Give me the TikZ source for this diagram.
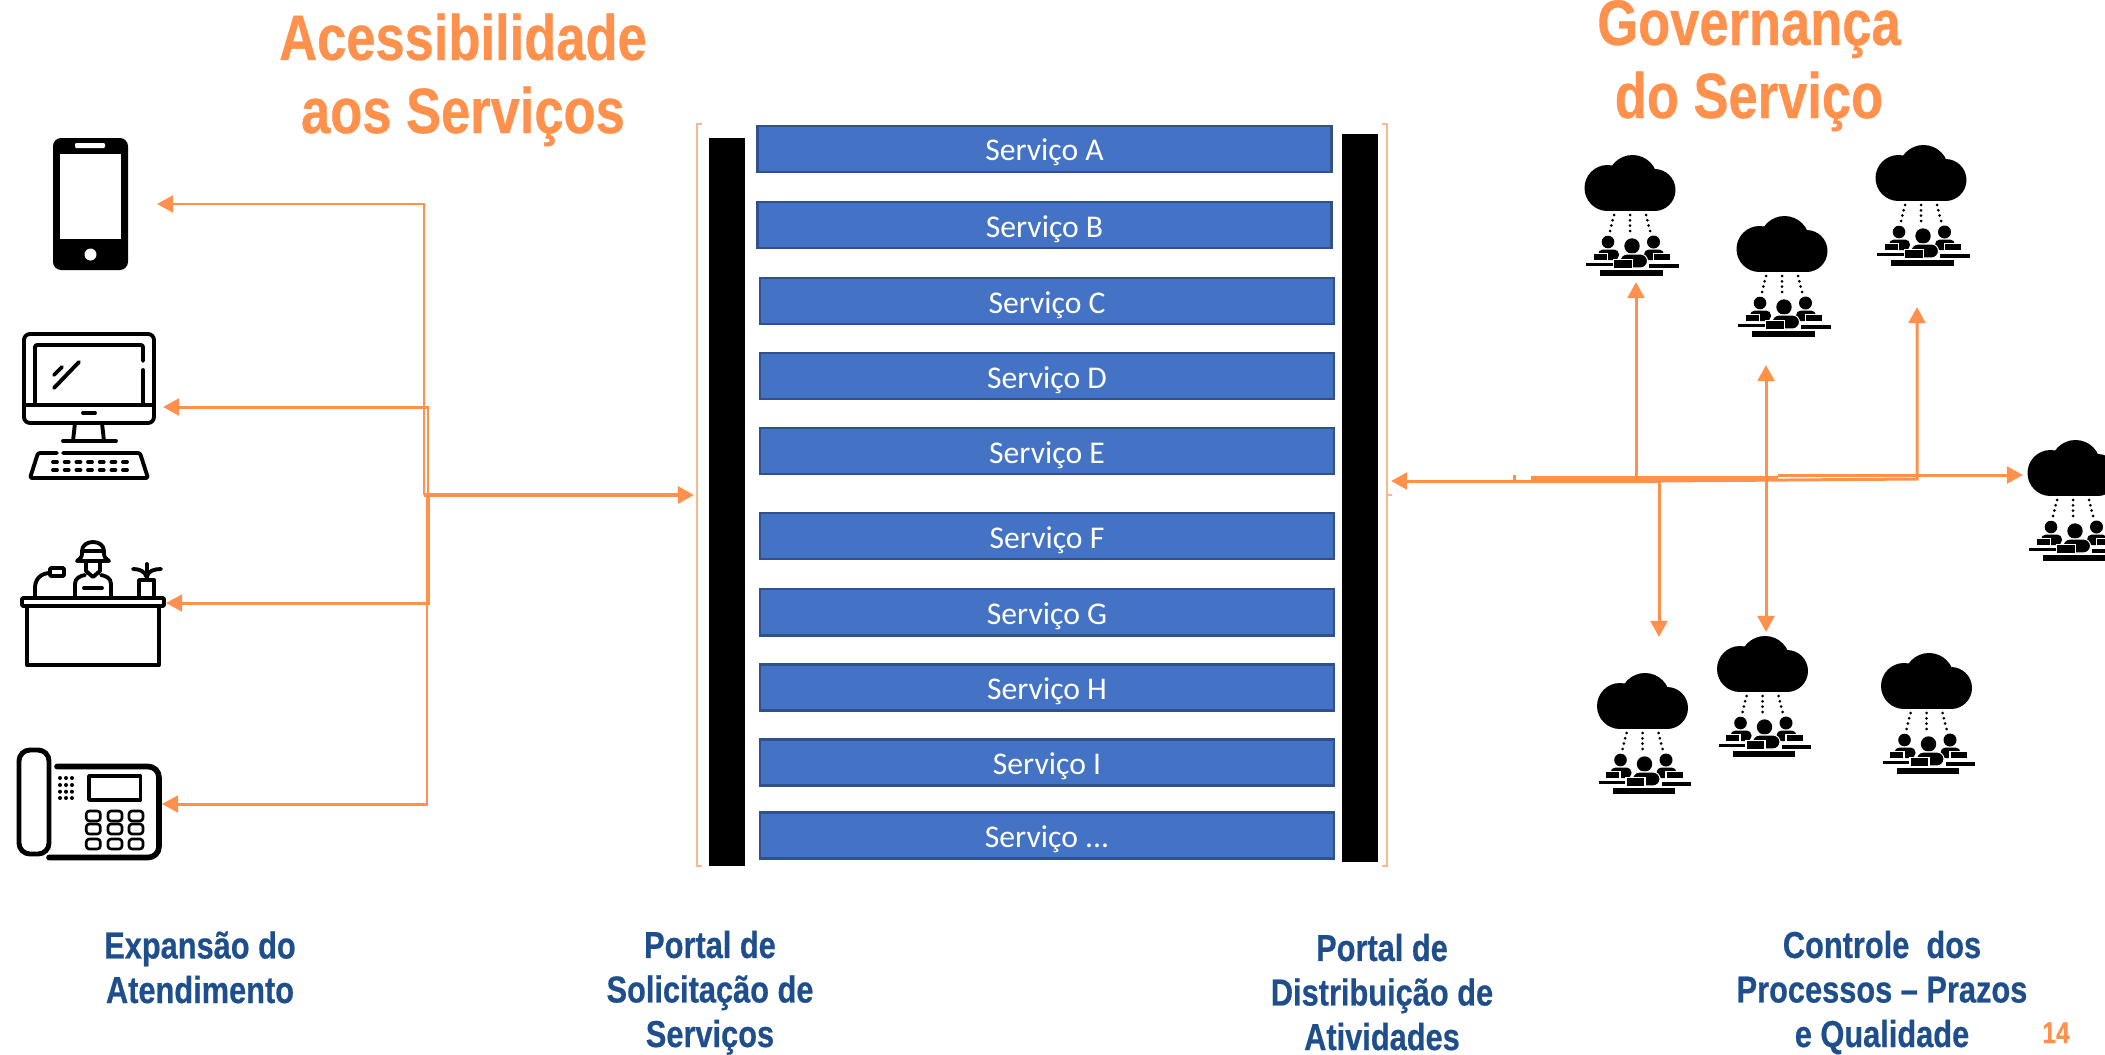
\documentclass[tikz,border=0pt]{standalone}
\usepackage{fontspec}
\setmainfont{Carlito}
\newfontfamily\headfont[FakeStretch=0.82,FakeBold=0.5]{Liberation Sans}
\usetikzlibrary{arrows.meta}
\usetikzlibrary{positioning}
\definecolor{flowcol}{HTML}{FF914D}
\definecolor{bracketcol}{HTML}{F9B78E}
\definecolor{servfill}{HTML}{4472C4}
\definecolor{servline}{HTML}{2F528F}
\definecolor{labelcol}{HTML}{1F4E8C}
\tikzset{
  flow/.style={draw=flowcol, line width=0.85pt},
  bracket/.style={draw=bracketcol, line width=0.35pt},
  servbox/.style={rectangle, draw=servline, fill=servfill, line width=0.7pt, text=white, font=\fontsize{9}{11}\selectfont, minimum width=5.74cm, minimum height=0.46cm, inner sep=0pt, outer sep=0pt, text height=7.2pt, text depth=0.4pt},
  portalbar/.style={rectangle, fill=black, minimum width=0.36cm, minimum height=7.28cm, inner sep=0pt, outer sep=0pt},
  heading/.style={text=flowcol, align=center, anchor=base, inner sep=0pt, font=\headfont\bfseries\fontsize{18.2}{20.8}\selectfont},
  caption/.style={text=labelcol, align=center, anchor=base, inner sep=0pt, font=\headfont\bfseries\fontsize{10.67}{12.66}\selectfont},
  iconline/.style={draw=black, line width=1.1pt, line cap=round, line join=round},
  phone/.pic={
    \fill[rounded corners=2.3pt] (0,0) rectangle (75,132);
    \fill[white] (7,16) rectangle (68,101);
    \fill[white, rounded corners=0.3pt] (22,5) rectangle (52,10);
    \fill[white] (37.5,116.5) circle[radius=6];
  },
  desktop/.pic={
    \draw[iconline, rounded corners=1.7pt] (1,1) rectangle (131,90);
    \draw[iconline] (1,72) -- (131,72);
    \draw[iconline, rounded corners=0.6pt] (12,72) -- (12,12) -- (120,12) -- (120,28);
    \draw[iconline] (120,37) -- (120,72);
    \draw[iconline] (60,80) -- (72,80);
    \draw[iconline] (31,55) -- (56,29);
    \draw[iconline] (31,42) -- (39,34);
    \draw[iconline] (52,90) -- (50,108);
    \draw[iconline] (79,90) -- (81,108);
    \draw[iconline] (40,108) -- (93,108);
    \draw[iconline, rounded corners=0.6pt] (34,120) -- (15,120) -- (7,145) -- (125,145) -- (117,120) -- (40,120);
    \foreach \kx in {32,43.7,55.4,67,78.7,90.4,102} {
      \draw[iconline] (\kx-2,129) -- (\kx+2,129);
      \draw[iconline] (\kx-2,137) -- (\kx+2,137);
    }
  },
  reception/.pic={
    \draw[iconline, rounded corners=0.3pt] (2,58) rectangle (144,66);
    \draw[iconline] (7,66) -- (7,125) -- (139,125) -- (139,66);
    \draw[iconline] (15,56) -- (15,48) .. controls (15,38) and (22,33) .. (30,33);
    \draw[iconline, rounded corners=0.3pt] (30,28) rectangle (44,36);
    \draw[iconline] (62,11) .. controls (62,-1) and (84,-1) .. (84,11) -- cycle;
    \draw[iconline] (62,11) .. controls (62,17) .. (57,21) -- (89,21) .. controls (84,17) .. (84,11);
    \draw[iconline] (66,22) -- (66,31) -- (73,37) -- (80,31) -- (80,22);
    \draw[iconline] (55,56) -- (55,44) .. controls (55,38) and (60,36) .. (65,35);
    \draw[iconline] (91,56) -- (91,44) .. controls (91,38) and (86,36) .. (81,35);
    \draw[iconline] (64,48) -- (82,48);
    \draw[iconline] (119,56) -- (119,40) -- (134,40) -- (134,56);
    \draw[iconline] (126.7,24) -- (126.7,40);
    \draw[iconline] (126.7,37) .. controls (125,31) and (119,29) .. (113,29);
    \draw[iconline] (126.7,37) .. controls (128,31) and (134,29) .. (141,29);
  },
  deskset/.pic={
    \draw[iconline, line width=1.4pt, rounded corners=3.1pt] (3,3) rectangle (33,107);
    \draw[iconline, line width=1.6pt, rounded corners=3.1pt] (41,19.5) -- (143,19.5) -- (143,110.5) -- (33,110.5);
    \draw[iconline, line width=1pt] (73,29) rectangle (124.5,53);
    \foreach \dx in {44,50,56} \foreach \dy in {31,38,44.7,51}
      \fill (\dx,\dy) circle[radius=2];
    \foreach \dx in {77.3,99,120} \foreach \dy in {69,82,97}
      \draw[iconline, line width=0.75pt, rounded corners=0.85pt] (\dx-7,\dy-5) rectangle (\dx+7,\dy+5);
  },
  crowd/.pic={
    % cloud
    \fill (-22.5,-23) circle[radius=23];
    \fill (2.5,-31) circle[radius=25];
    \fill (24.5,-21) circle[radius=21];
    \fill (-22.5,-20) rectangle (24.5,0);
    % dotted links
    \foreach \dt in {0,0.33,0.66,1} {
      \fill (-16-4*\dt,4+16*\dt) circle[radius=1.5];
      \fill (0,4+16*\dt) circle[radius=1.5];
      \fill (16+4*\dt,4+16*\dt) circle[radius=1.5];
    }
    % people
    \fill (-22,31) circle[radius=6.3];
    \fill (23.5,31) circle[radius=6.5];
    \fill (2,35) circle[radius=7.7];
    \fill[rounded corners=1.4pt] (-32,49) -- (-32,38.5) -- (-11,38.5) -- (-11,49) -- cycle;
    \fill[rounded corners=1.4pt] (14,49) -- (14,38.5) -- (34,38.5) -- (34,49) -- cycle;
    \filldraw[draw=white, line width=0.3pt, rounded corners=2pt] (-10,57) -- (-10,43) -- (17.5,43) -- (17.5,57) -- cycle;
    \filldraw[draw=white, line width=0.3pt] (-37,42.7) rectangle (-22.5,50);
    \filldraw[draw=white, line width=0.3pt] (23.5,42.7) rectangle (41,50);
    \filldraw[draw=white, line width=0.3pt] (-16.5,48.3) rectangle (2.5,57.7);
    \fill (-44,51.7) rectangle (-17.5,55);
    \fill (19,53.3) rectangle (48.5,57.3);
    \fill (-30,59.3) rectangle (32.5,65.3);
  }
}
\begin{document}
\begin{tikzpicture}[x=0.01cm, y=-0.01cm, >={Triangle[length=4.6pt,width=4.8pt]}]
  \path[use as bounding box, clip] (0,0) rectangle (2105,1054);

  \node[heading] (acesso) at (463,133) {Acessibilidade\\aos Serviços};
  \node[heading] (governo) at (1749,118) {Governança\\do Serviço};

  % services
  \node[portalbar] (barin) at (727,502) {};
  \node[portalbar] (barout) at (1360,498) {};
  \node[servbox] (sa) at (1044.5,149) {Serviço A};
  \node[servbox, below=0.30cm of sa] (sb) {Serviço B};
  \node[servbox, below=0.30cm of sb, xshift=0.025cm] (sc) {Serviço C};
  \node[servbox, below=0.29cm of sc] (sd) {Serviço D};
  \node[servbox, below=0.29cm of sd] (se) {Serviço E};
  \node[servbox, below=0.39cm of se] (sf) {Serviço F};
  \node[servbox, below=0.30cm of sf] (sg) {Serviço G};
  \node[servbox, below=0.29cm of sg] (sh) {Serviço H};
  \node[servbox, below=0.29cm of sh] (si) {Serviço I};
  \node[servbox, below=0.27cm of si] (sj) {Serviço ...};

  \draw[bracket] (702,124) -- (697,124) -- (697,866) -- (702,866);
  \draw[bracket] (1382,124) -- (1387,124) -- (1387,866) -- (1382,866);
  \draw[bracket] (1387,495) -- (1392,495);

  % left icons
  \pic (cel) at (53,138) {phone};
  \pic (pc) at (23,333) {desktop};
  \pic (balcao) at (20,540) {reception};
  \pic (fone) at (16,747) {deskset};

  % right icons
  \pic (ca) at (1630,211) {crowd};
  \pic (cb) at (1782,272) {crowd};
  \pic (cc) at (1921,201) {crowd};
  \pic (cd) at (2073,496) {crowd};
  \pic (ce) at (1642.5,729) {crowd};
  \pic (cf) at (1762.5,692) {crowd};
  \pic (cg) at (1926.5,709) {crowd};

  \coordinate (tcel) at (157,204);
  \coordinate (tpc) at (163,407);
  \coordinate (tbal) at (166,603);
  \coordinate (tfone) at (162,804);
  \coordinate (trunka) at (424,495);
  \coordinate (trunkb) at (428,603);
  \coordinate (trunkc) at (429,495);
  \coordinate (trunkd) at (427,495);
  \coordinate (entrada) at (694,495);

  \draw[flow, ->] (trunka) |- (tcel);
  \draw[flow, ->] (trunkb) |- (tpc);
  \draw[flow, ->] (trunkc) |- (tbal);
  \draw[flow, ->] (trunkd) |- (tfone);
  \draw[flow, line width=1pt, ->] (trunka) -- (entrada);

  \coordinate (saida) at (1391,481);
  \coordinate (hubw) at (1514,481);
  \coordinate (hubn) at (1514,475);
  \coordinate (hubc) at (1659,481);
  \coordinate (huba) at (1531,478);
  \coordinate (hubb) at (1778,478);
  \coordinate (hubd) at (1778,475);
  \coordinate (hube) at (1917,479);
  \coordinate (tca) at (1636,282);
  \coordinate (tcb) at (1766,365);
  \coordinate (tce) at (1659,637);
  \coordinate (tcf) at (1766,632);
  \coordinate (tcc) at (1917,307);
  \coordinate (tcd) at (2023,475);

  \draw[flow, ->] (hubw) -- (saida);
  \draw[flow] (hubn) -- (hubw) -- (hubc);
  \draw[flow, line width=1.2pt] (huba) -- (hubb);
  \draw[flow, ->] (hubc) -- (tce);
  \draw[flow, ->] (tca |- huba) -- (tca);
  \draw[flow, <->] (tcb) -- (tcf);
  \draw[flow, ->] (hubc) -- (hube) -- (tcc);
  \draw[flow, ->] (hubd) -- (tcd);

  % captions
  \node[caption] (expansao) at (200,1003) {Expansão do\\Atendimento};
  \node[caption] (solicita) at (710,1047) {Portal de\\Solicitação de\\Serviços};
  \node[caption] (distrib) at (1382,1050) {Portal de\\Distribuição de\\Atividades};
  \node[caption] (controle) at (1882,1047) {Controle\ \ dos\\Processos – Prazos\\e Qualidade};
  \node[text=flowcol, anchor=base, inner sep=0pt, font=\headfont\bfseries\fontsize{8.5}{10}\selectfont] (pagina) at (2056,1043) {14};
\end{tikzpicture}
\end{document}
